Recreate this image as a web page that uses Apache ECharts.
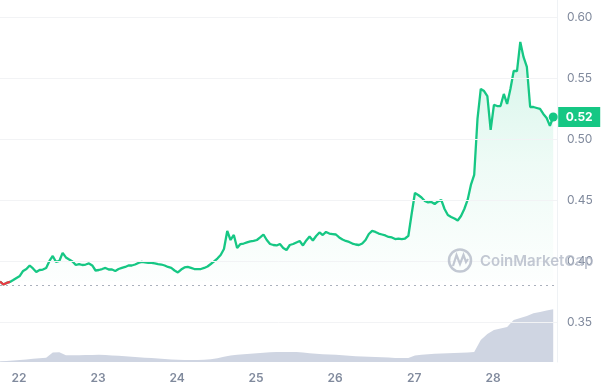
<!DOCTYPE html>
<html>
<head>
<meta charset="utf-8">
<script src="https://cdn.jsdelivr.net/npm/echarts@6/dist/echarts.min.js"></script>
<style>
html,body{margin:0;padding:0;background:#fff;}
#chart{width:601px;height:389px;}
</style>
</head>
<body>
<div id="chart"></div>
<script>
// Time in hours relative to day 22, 00:00
const priceStartHour = -5.75;
const priceStepHours = 1;
const prices = [
0.3832,0.3807,0.3820,0.3828,0.3844,0.3861,0.3877,0.3918,0.3934,0.3963,
0.3939,0.3910,0.3926,0.3930,0.3943,0.4000,0.4041,0.3992,0.4000,0.4066,
0.4029,0.4012,0.3996,0.3967,0.3975,0.3967,0.3971,0.3980,0.3963,0.3922,
0.3926,0.3934,0.3943,0.3930,0.3930,0.3918,0.3934,0.3943,0.3951,0.3963,
0.3963,0.3971,0.3984,0.3992,0.3988,0.3984,0.3984,0.3980,0.3975,0.3971,
0.3963,0.3951,0.3943,0.3922,0.3906,0.3930,0.3947,0.3951,0.3943,0.3934,
0.3934,0.3934,0.3943,0.3955,0.3975,0.3996,0.4020,0.4049,0.4098,0.4246,
0.4172,0.4213,0.4107,0.4139,0.4143,0.4152,0.4160,0.4164,0.4172,0.4193,
0.4217,0.4172,0.4139,0.4131,0.4127,0.4139,0.4107,0.4090,0.4131,0.4139,
0.4152,0.4164,0.4127,0.4168,0.4201,0.4168,0.4205,0.4234,0.4213,0.4238,
0.4225,0.4221,0.4217,0.4193,0.4176,0.4164,0.4156,0.4143,0.4135,0.4131,
0.4143,0.4172,0.4221,0.4246,0.4238,0.4225,0.4217,0.4209,0.4197,0.4193,
0.4180,0.4184,0.4180,0.4184,0.4205,0.4385,0.4557,0.4541,0.4520,0.4492,
0.4480,0.4484,0.4467,0.4488,0.4500,0.4426,0.4377,0.4361,0.4348,0.4332,
0.4369,0.4426,0.4500,0.4623,0.4705,0.5164,0.5410,0.5393,0.5352,0.5074,
0.5279,0.5270,0.5270,0.5369,0.5287,0.5410,0.5557,0.5557,0.5795,0.5670,
0.5590,0.5262,0.5262,0.5254,0.5246,0.5205,0.5172,0.5107,0.5180
];
const volStartHour = -5.75;
const volStepHours = 2;
const volumesM = [
0.7,1.0,1.4,2.0,2.6,3.2,3.8,4.3,9.5,9.7,
6.7,6.7,6.7,6.9,7.1,7.3,7.0,6.6,6.3,5.7,
5.3,4.8,4.3,4.0,3.5,3.0,2.5,2.2,2.0,2.0,
2.0,2.3,2.8,3.8,5.3,6.5,7.3,7.8,8.3,8.8,
9.3,9.7,10.0,10.0,10.0,10.0,9.5,8.8,8.2,7.8,
7.5,7.3,6.8,6.3,5.8,5.5,5.2,5.0,4.7,4.4,
4.1,4.0,4.0,6.5,7.3,7.8,8.2,8.5,8.7,8.9,
9.2,9.5,10.0,22,28,32,33.5,35,42,44,
46,48.7,50,51.5,52.7
];
const dayLabels = [22,23,24,25,26,27,28];
const priceTicks = [0.35,0.40,0.45,0.50,0.55,0.60];

const GREEN = '#16c784', RED = '#ea3943';
const basePrice = prices[0];
const priceData = prices.map((p,i)=>[priceStartHour + i*priceStepHours, p]);
// leading stretch that stays at or below the opening price (drawn red)
let redEnd = 1;
while (redEnd < prices.length && prices[redEnd] <= basePrice) redEnd++;
const redData = priceData.slice(0, redEnd);
const volData = volumesM.map((v,i)=>[volStartHour + i*volStepHours, v]);
const last = priceData[priceData.length-1];

const chart = echarts.init(document.getElementById('chart'), null, {renderer:'canvas'});
chart.setOption({
  animation:false,
  backgroundColor:'#fff',
  textStyle:{fontFamily:'Inter, "Noto Sans", sans-serif'},
  grid:{left:0,right:44,top:0,bottom:27,containLabel:false},
  xAxis:{
    type:'value', min:-5.77, max:163.4,
    axisLine:{show:false}, axisTick:{show:false}, splitLine:{show:false},
    axisLabel:{
      customValues: dayLabels.map(d=>(d-dayLabels[0])*24),
      formatter: v => String(dayLabels[0] + Math.round(v/24)),
      color:'#808a9d', fontSize:12, fontWeight:600, margin:10
    }
  },
  yAxis:[{
    type:'value', position:'right', min:0.3172, max:0.6139, scale:true,
    axisLine:{show:true, onZero:false, lineStyle:{color:'#eff2f5'}},
    axisTick:{show:false, customValues: priceTicks},
    splitLine:{show:false},
    axisLabel:{customValues: priceTicks, formatter: v=>v.toFixed(2), color:'#808a9d', fontSize:12, margin:10}
  },{
    type:'value', min:0, max:362, show:false, axisLine:{onZero:false}
  }],
  graphic:[
    {type:'circle', shape:{cx:460, cy:260.5, r:11}, style:{fill:'none', stroke:'rgba(175,182,196,0.75)', lineWidth:2.5}, z:100},
    {type:'polyline', shape:{points:[[453,266],[456.5,255],[460,264],[463.5,255],[466,262],[468,259]]}, style:{fill:'none', stroke:'rgba(175,182,196,0.75)', lineWidth:2.2}, z:100},
    {type:'text', x:480, y:261, style:{text:'CoinMarketCap', fontFamily:'Inter, sans-serif', fontSize:15, fontWeight:600, fill:'rgba(175,182,196,0.75)', textVerticalAlign:'middle'}, z:100}
  ],
  series:[
    {
      name:'grid', type:'line', data:[], z:0, silent:true,
      markLine:{
        silent:true, symbol:['none','none'], label:{show:false},
        data: priceTicks.map(v=>({yAxis:v, lineStyle:{color:'#f2f3f5', type:'solid', width:1}}))
      }
    },
    {
      name:'Volume', type:'line', yAxisIndex:1, data:volData, showSymbol:false, z:1,
      lineStyle:{width:0}, areaStyle:{color:'#cfd5e2', opacity:1}, silent:true
    },
    {
      name:'Price', type:'line', data:priceData, showSymbol:false, z:3,
      lineStyle:{width:2.3, color:GREEN}, itemStyle:{color:GREEN}, silent:true,
      areaStyle:{
        origin: basePrice,
        color: new echarts.graphic.LinearGradient(0,0,0,1,[
          {offset:0, color:'rgba(22,199,132,0.26)'},
          {offset:0.5, color:'rgba(22,199,132,0.10)'},
          {offset:1, color:'rgba(22,199,132,0.01)'}
        ])
      },
      markLine:{
        silent:true, symbol:['none','none'], label:{show:false},
        data:[{yAxis:basePrice, lineStyle:{color:'#aab0bc', type:[2,4], width:1}}]
      },
      markPoint:{
        silent:true,
        data:[
          {coord:last, symbol:'circle', symbolSize:9, itemStyle:{color:GREEN}, label:{show:false}},
          {coord:last, symbol:'rect', symbolSize:[42,20], symbolOffset:[26,0], itemStyle:{color:GREEN},
           label:{show:true, position:'inside', formatter: last[1].toFixed(2), color:'#fff', fontSize:12, fontWeight:700}}
        ]
      }
    },
    {
      name:'Price below open', type:'line', data:redData, showSymbol:false, z:4,
      lineStyle:{width:2.3, color:RED}, itemStyle:{color:RED}, silent:true
    }
  ]
});
</script>
</body>
</html>
